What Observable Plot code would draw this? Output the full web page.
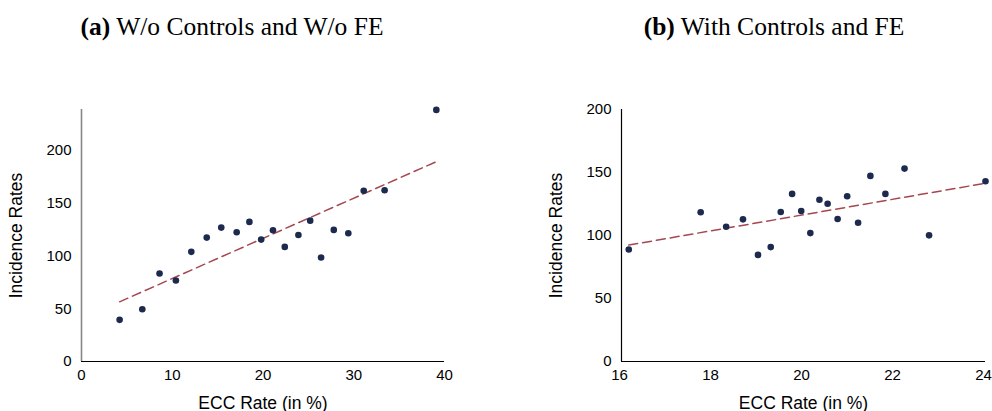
<!DOCTYPE html>
<html>
<head>
<meta charset="utf-8">
<script src="https://cdn.jsdelivr.net/npm/d3@7"></script>
<script src="https://cdn.jsdelivr.net/npm/@observablehq/plot@0.6"></script>
<style>
  body { margin: 0; background: #fff; }
  #wrap { position: relative; width: 992px; height: 411px; overflow: hidden; }
  .title { position: absolute; top: 14px; line-height: 1; font-family: "Liberation Serif", "Times New Roman", serif; font-size: 25.5px; color: #000; white-space: nowrap; transform: translateX(-50%); }
  .panel { position: absolute; top: 100px; }
</style>
</head>
<body>
<div id="wrap">
  <div class="title" style="left:232px"><b>(a)</b> W/o Controls and W/o FE</div>
  <div class="title" style="left:774px"><b>(b)</b> With Controls and FE</div>
  <div class="panel" id="pa" style="left:0px"></div>
  <div class="panel" id="pb" style="left:496px"></div>
</div>
<script>
// Panel (a): W/o Controls and W/o FE
const aEcc = [4.2, 6.7, 8.6, 10.4, 12.1, 13.8, 15.4, 17.1, 18.5, 19.8, 21.1, 22.4, 23.9, 25.2, 26.4, 27.8, 29.4, 31.1, 33.4, 39.1];
const aInc = [39.5, 49.6, 83.4, 76.8, 104, 117.5, 127, 122.6, 132.4, 115.6, 124.5, 108.7, 120, 133.6, 98.6, 124.8, 121.6, 162, 162.4, 238.6];
const aFitX = [4.2, 39.2];
const aFitY = [56.6, 189.9];
const aXTicks = [0, 10, 20, 30, 40];
const aYTicks = [0, 50, 100, 150, 200];

// Panel (b): With Controls and FE
const bEcc = [16.16, 17.74, 18.30, 18.67, 19.0, 19.28, 19.50, 19.75, 19.95, 20.15, 20.35, 20.53, 20.75, 20.96, 21.20, 21.47, 21.80, 22.22, 22.76, 24.0];
const bInc = [88.9, 118.4, 106.9, 112.8, 84.6, 90.8, 118.6, 133, 119.4, 101.9, 128.4, 125.2, 113.1, 131.1, 110.1, 147.3, 133, 153.1, 100.1, 143.1];
const bFitX = [16.16, 24.0];
const bFitY = [92.4, 141.5];
const bXTicks = [16, 18, 20, 22, 24];
const bYTicks = [0, 50, 100, 150, 200];

const dotColor = "#1c2a4e";
const fitColor = "#a5474f";

function panel({ecc, inc, fitX, fitY, xTicks, yTicks, xDomain, yDomain, width, marginLeft, marginRight, yAxisColor, yAxisWidth, xTickDx}) {
  const pts = ecc.map((x, i) => ({x, y: inc[i]}));
  const fit = fitX.map((x, i) => ({x, y: fitY[i]}));
  return Plot.plot({
    width, height: 311,
    marginLeft, marginRight, marginTop: 9, marginBottom: 50,
    style: {fontFamily: "'Liberation Sans', Arial, sans-serif", fontSize: "15px", color: "#000", background: "#fff", overflow: "visible"},
    x: {domain: xDomain},
    y: {domain: yDomain},
    marks: [
      Plot.axisX({ticks: xTicks, tickSize: 0, tickPadding: 8, fontSize: 15, label: null, dx: xTickDx}),
      Plot.axisX({ticks: [], tickSize: 0, fontSize: 17.5, label: "ECC Rate (in %)", labelAnchor: "center", labelArrow: "none", labelOffset: 47}),
      Plot.axisY({ticks: yTicks, tickSize: 0, tickPadding: 10, fontSize: 15, label: null}),
      Plot.axisY({ticks: [], tickSize: 0, fontSize: 17.5, label: "Incidence Rates", labelAnchor: "center", labelArrow: "none", labelOffset: 72}),
      Plot.ruleX([xDomain[0]], {stroke: yAxisColor, strokeWidth: yAxisWidth}),
      Plot.ruleY([yDomain[0]], {stroke: "#000", strokeWidth: 1.2}),
      Plot.line(fit, {x: "x", y: "y", stroke: fitColor, strokeWidth: 1.5, strokeDasharray: "9,5"}),
      Plot.dot(pts, {x: "x", y: "y", r: 3.3, fill: dotColor, stroke: "none"})
    ]
  });
}

document.getElementById("pa").append(panel({
  ecc: aEcc, inc: aInc, fitX: aFitX, fitY: aFitY, xTicks: aXTicks, yTicks: aYTicks,
  xDomain: [0, 40], yDomain: [0, 239], width: 470, marginLeft: 81, marginRight: 26,
  yAxisColor: "#888", yAxisWidth: 1.6, xTickDx: 0
}));
document.getElementById("pb").append(panel({
  ecc: bEcc, inc: bInc, fitX: bFitX, fitY: bFitY, xTicks: bXTicks, yTicks: bYTicks,
  xDomain: [16, 24], yDomain: [0, 200], width: 496, marginLeft: 125, marginRight: 7,
  yAxisColor: "#000", yAxisWidth: 1.2, xTickDx: -2
}));
</script>
</body>
</html>
